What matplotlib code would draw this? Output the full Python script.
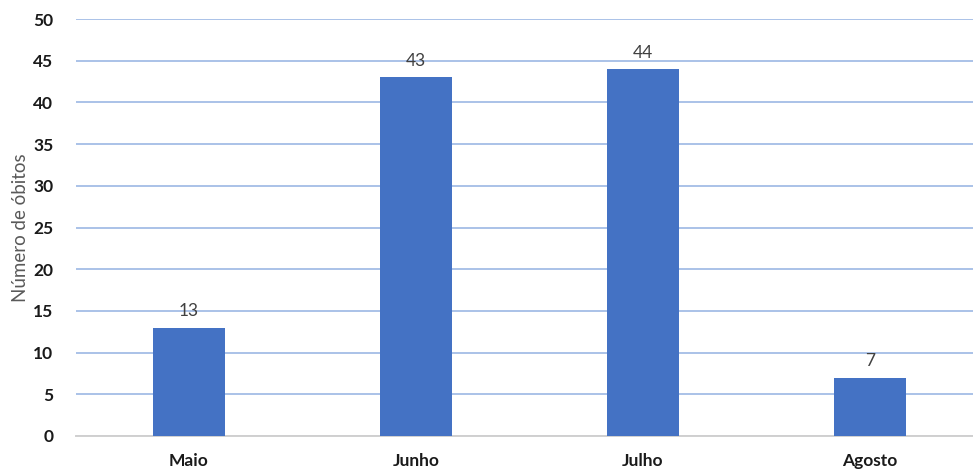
import matplotlib
matplotlib.use("Agg")
import matplotlib.pyplot as plt

months = ["Maio", "Junho", "Julho", "Agosto"]
deaths = [13, 43, 44, 7]
y_ticks = [0, 5, 10, 15, 20, 25, 30, 35, 40, 45, 50]

plt.rcParams['font.family'] = ['Lato', 'DejaVu Sans']

fig = plt.figure(figsize=(9.73, 4.70), dpi=100)
ax = fig.add_axes([75.5 / 973, 34 / 470, 908 / 973, 417 / 470])

x = range(len(months))
bars = ax.bar(x, deaths, width=0.317, color="#4472c4", zorder=3)
for xi, v in zip(x, deaths):
    ax.text(xi, v + 1.0, str(v), ha="center", va="bottom", fontsize=12.5, color="#404040")

ax.set_xlim(-0.5, 3.5)
ax.set_ylim(0, 50)
ax.set_yticks(y_ticks)
ax.set_yticklabels([str(t) for t in y_ticks], fontsize=12.5, fontweight="bold", color="#1a1a1a")
ax.set_xticks(list(x))
ax.set_xticklabels(months, fontsize=12.5, fontweight="bold", color="#1a1a1a")
ax.tick_params(axis="both", length=0)
ax.tick_params(axis="y", pad=16)
ax.tick_params(axis="x", pad=12)

ax.yaxis.grid(True, color="#aac2e8", linewidth=1.4, zorder=0)
for s in ["top", "right", "left"]:
    ax.spines[s].set_visible(False)
ax.spines["bottom"].set_color("#d0d0d0")
ax.spines["bottom"].set_linewidth(1.4)

ax.set_ylabel("Número de óbitos", fontsize=13.5, color="#595959", labelpad=3)

fig.savefig("out.png", dpi=100)
